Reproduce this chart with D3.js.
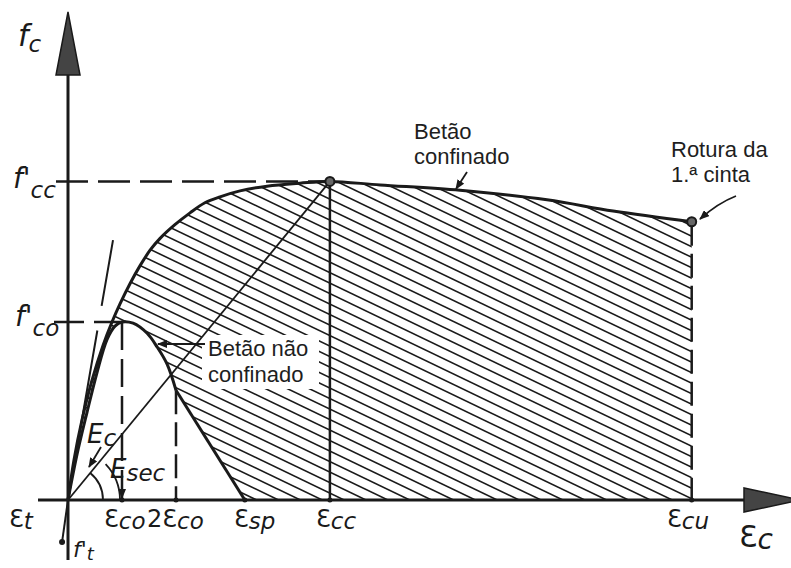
<!DOCTYPE html>
<html>
<head>
<meta charset="utf-8">
<script src="https://cdn.jsdelivr.net/npm/d3@7"></script>
<style>
  html, body { margin: 0; padding: 0; background: #fff; }
  svg { display: block; }
  .hand { font-family: "DejaVu Sans", sans-serif; fill: #1a1a1a; font-size: 24px; }
  .note { font-family: "Liberation Sans", Arial, sans-serif; font-size: 22px; fill: #1e1e1e; }
</style>
</head>
<body>
<svg id="chart" width="791" height="568"></svg>
<script>
// Mander-type stress-strain sketch. Strain in per mille, stress in MPa.
const confined = [[0,0],[0.22,6.7],[0.52,13.5],[0.89,20.2],[1.30,26.1],[1.63,30.0],[1.93,33.1],
  [2.30,36.5],[2.67,39.5],[3.04,42.1],[3.41,44.1],[3.96,46.4],[4.52,48.4],[5.07,50.1],[5.63,51.1],
  [6.37,52.1],[7.37,52.9],[8.59,53.4],[9.7,53.7],[11.56,53.1],[14.52,52.2],[17.74,50.6],[20.19,48.7],[23.1,46.9]];
const unconfined = [[0,0],[0.33,7.6],[0.70,14.7],[1.07,21.4],[1.44,27.0],[1.74,29.3],[2.0,30.0],
  [2.41,29.8],[2.93,28.1],[3.30,25.8],[3.67,22.9],[4.0,18.5]];
const unconfinedTail = [[4.0,18.5],[6.55,0]];
const tension = [[0,0],[-0.22,-7.1]];
const tangentEc = [[0,0],[1.667,43.8]];

const eps = { co: 2.0, co2: 4.0, sp: 6.55, cc: 9.7, cu: 23.1 };
const fco = 30.0, fcc = 53.7, fcu = 46.9, f2co = 18.5;
const axisMarks = [eps.co, eps.co2, eps.sp, eps.cc, eps.cu];

const svg = d3.select("#chart");
const x = d3.scaleLinear().domain([0, 27]).range([68, 797]);
const y = d3.scaleLinear().domain([0, 82]).range([500, 13.5]);
const ink = "#1a1a1a";

const smooth = d3.line().x(d => x(d[0])).y(d => y(d[1])).curve(d3.curveCatmullRom.alpha(0.5));
const straight = d3.line().x(d => x(d[0])).y(d => y(d[1]));

const defs = svg.append("defs");
defs.append("marker").attr("id", "arr").attr("viewBox", "0 0 10 8")
  .attr("refX", 9).attr("refY", 4).attr("markerWidth", 10).attr("markerHeight", 8)
  .attr("markerUnits", "userSpaceOnUse").attr("orient", "auto")
  .append("path").attr("d", "M0,0L10,4L0,8Z").attr("fill", ink);

// hatched region between confined and unconfined curves
const region = smooth(confined)
  + "L" + x(eps.cu) + "," + y(0)
  + "L" + x(eps.sp) + "," + y(0)
  + straight(unconfinedTail.slice().reverse()).replace(/^M/, "L")
  + smooth(unconfined.slice().reverse()).replace(/^M/, "L") + "Z";
defs.append("clipPath").attr("id", "hclip").append("path").attr("d", region);

const hatch = svg.append("g").attr("clip-path", "url(#hclip)");
const slope = 0.48;
for (let c = -150; c < 520; c += 10.5) {
  hatch.append("line").attr("x1", 40).attr("y1", c).attr("x2", 720).attr("y2", c + slope * 680)
    .attr("stroke", ink).attr("stroke-width", 1.6);
}

// white box behind the unconfined label
svg.append("rect").attr("x", 202).attr("y", 335).attr("width", 117).attr("height", 54).attr("fill", "#fff");

// guide lines
const guide = (x1, y1, x2, y2, dash, w) => svg.append("line")
  .attr("x1", x1).attr("y1", y1).attr("x2", x2).attr("y2", y2)
  .attr("stroke", ink).attr("stroke-width", w || 2.5).attr("stroke-dasharray", dash || null);
guide(56, y(fcc), x(eps.cc), y(fcc), "32,10");
guide(54, y(fco), x(eps.co), y(fco), "30,10");
guide(x(eps.co), y(fco), x(eps.co), y(0), "28,9");
guide(x(eps.co2), y(f2co), x(eps.co2), y(0), "24,8");
guide(x(eps.cu), y(fcu), x(eps.cu), y(0), "24,8");
guide(x(eps.cc), y(fcc), x(eps.cc), y(0), null, 2.5);

// secant and tangent moduli
svg.append("path").attr("d", straight([[0,0],[eps.cc, fcc]])).attr("fill", "none").attr("stroke", ink).attr("stroke-width", 1.8);
svg.append("path").attr("d", straight(tangentEc)).attr("fill", "none").attr("stroke", ink)
  .attr("stroke-width", 2).attr("stroke-dasharray", "172,25,90");

// curves
svg.append("path").attr("d", smooth(confined)).attr("fill", "none").attr("stroke", ink).attr("stroke-width", 3);
svg.append("path").attr("d", smooth(unconfined)).attr("fill", "none").attr("stroke", ink).attr("stroke-width", 3);
svg.append("path").attr("d", straight(unconfinedTail)).attr("fill", "none").attr("stroke", ink).attr("stroke-width", 3);
svg.append("path").attr("d", straight(tension)).attr("fill", "none").attr("stroke", ink).attr("stroke-width", 2);
svg.append("circle").attr("cx", x(tension[1][0])).attr("cy", y(tension[1][1])).attr("r", 3).attr("fill", ink);

// axes
svg.append("line").attr("x1", 38).attr("y1", y(0)).attr("x2", 746).attr("y2", y(0)).attr("stroke", ink).attr("stroke-width", 3);
svg.append("line").attr("x1", x(0)).attr("y1", 560).attr("x2", x(0)).attr("y2", 72).attr("stroke", ink).attr("stroke-width", 3);
svg.append("path").attr("d", `M${x(0)},12L${x(0) - 12},75L${x(0) + 12},75Z`).attr("fill", "#444").attr("stroke", ink).attr("stroke-width", 1.5);
svg.append("path").attr("d", `M744,488L744,512L800,500Z`).attr("fill", "#444").attr("stroke", ink).attr("stroke-width", 1.5);

svg.selectAll("circle.mark").data(axisMarks).join("circle").attr("class", "mark")
  .attr("cx", d => x(d)).attr("cy", y(0)).attr("r", 2.5).attr("fill", ink);

// angle arcs at the origin
const ox = x(0), oy = y(0);
const aSec = Math.atan2(y(0) - y(fcc), x(eps.cc) - x(0));
const arcPath = (r, a) => `M${ox + r},${oy}A${r},${r} 0 0 0 ${ox + r * Math.cos(a)},${oy - r * Math.sin(a)}`;
svg.append("path").attr("d", arcPath(35, aSec)).attr("fill", "none").attr("stroke", ink).attr("stroke-width", 1.8);
svg.append("path").attr("d", arcPath(52, aSec - 0.12)).attr("fill", "none").attr("stroke", ink).attr("stroke-width", 1.8);

// peak and ultimate points
svg.selectAll("circle.pt").data([[eps.cc, fcc], [eps.cu, fcu]]).join("circle").attr("class", "pt")
  .attr("cx", d => x(d[0])).attr("cy", d => y(d[1])).attr("r", 4.5)
  .attr("fill", "#666").attr("stroke", ink).attr("stroke-width", 2);

// pointers
const pointer = d => svg.append("path").attr("d", d).attr("fill", "none").attr("stroke", ink)
  .attr("stroke-width", 1.8).attr("marker-end", "url(#arr)");
pointer("M205,344L158,344");
pointer("M467,172L456,189");
pointer("M736,196Q718,203 700,219");
pointer("M101,447L89,467");
pointer("M122,483L122,498");

// hand-lettered symbols
function sym(px, py, main, sub, opts = {}) {
  const t = svg.append("text").attr("class", "hand").attr("x", px).attr("y", py);
  t.append("tspan").text(main).attr("font-size", opts.mainSize || 24).attr("font-style", opts.italic ? "italic" : null);
  if (sub) t.append("tspan").text(sub).attr("font-size", opts.subSize || 23).attr("dy", opts.dy || 2)
    .attr("font-style", "italic");
}
sym(18, 46, "f", "c", { mainSize: 30, italic: true, dy: 6 });
sym(13, 188, "f'", "cc", { mainSize: 28, italic: true, dy: 10 });
sym(15, 326, "f'", "co", { mainSize: 28, italic: true, dy: 10 });
sym(9, 527, "Ɛ", "t");
sym(104, 527, "Ɛ", "co");
sym(147, 527, "2Ɛ", "co");
sym(234, 527, "Ɛ", "sp");
sym(316, 527, "Ɛ", "cc");
sym(667, 527, "Ɛ", "cu");
sym(739, 547, "Ɛ", "c", { mainSize: 30, subSize: 28 });
sym(87, 443, "E", "c", { mainSize: 26, italic: true, dy: 3 });
sym(110, 478, "E", "sec", { mainSize: 26, italic: true, dy: 3 });
sym(73, 557, "f'", "t", { mainSize: 22, italic: true, subSize: 18, dy: 3 });

// notes
const notes = [
  { x: 414, y: 139, s: "Betão" }, { x: 414, y: 164, s: "confinado" },
  { x: 671, y: 157, s: "Rotura da" }, { x: 671, y: 182, s: "1.ª cinta" },
  { x: 208, y: 356, s: "Betão não" }, { x: 208, y: 382, s: "confinado" }
];
svg.selectAll("text.note").data(notes).join("text").attr("class", "note")
  .attr("x", d => d.x).attr("y", d => d.y).text(d => d.s);
</script>
</body>
</html>
